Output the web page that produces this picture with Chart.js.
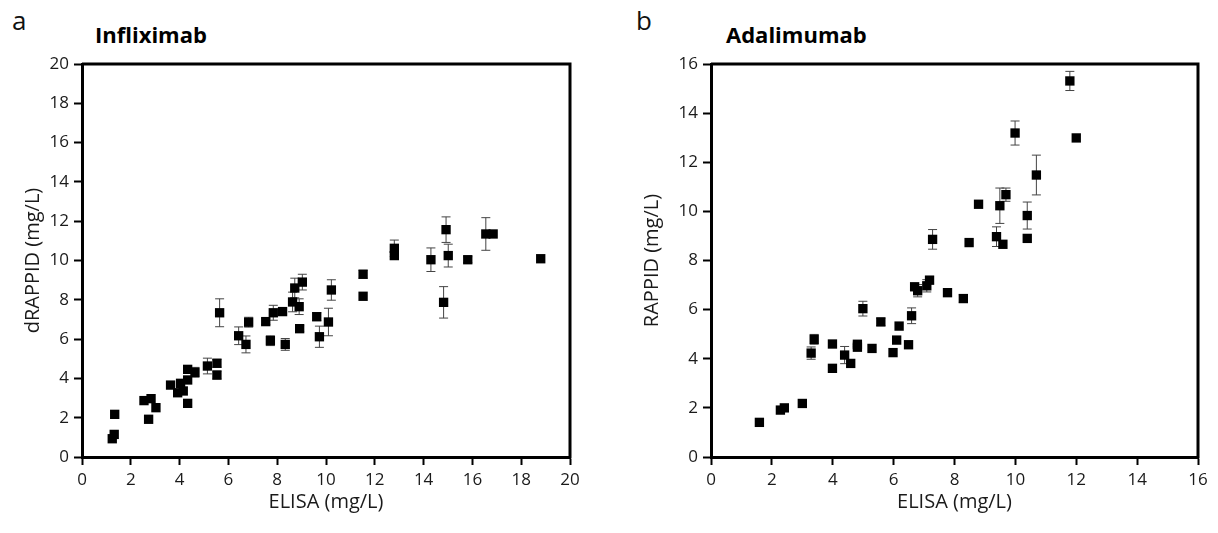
<!DOCTYPE html>
<html>
<head>
<meta charset="utf-8">
<script src="https://cdn.jsdelivr.net/npm/chart.js@4.4.1/dist/chart.umd.min.js"></script>
<style>
  body { margin: 0; background: #fff; width: 1218px; height: 533px; position: relative; overflow: hidden; font-family: "Open Sans", sans-serif; }
  canvas { position: absolute; top: 0; }
  #c1 { left: 0; }
  #c2 { left: 609px; }
  .panel { position: absolute; top: 7px; font-size: 26px; line-height: 1; color: #111; }
  .title { position: absolute; top: 23px; font-size: 22px; line-height: 1; font-weight: bold; color: #000; }
</style>
</head>
<body>
<div class="panel" style="left:12px">a</div>
<div class="title" style="left:95px">Infliximab</div>
<div class="panel" style="left:636px">b</div>
<div class="title" style="left:726px">Adalimumab</div>
<canvas id="c1" width="609" height="533"></canvas>
<canvas id="c2" width="609" height="533"></canvas>
<script>
// Infliximab: ELISA vs dRAPPID (mg/L), error = SD
let inflixELISA = [1.24, 1.32, 1.34, 2.54, 2.73, 2.83, 3.03, 3.63, 3.92, 4.04, 4.15, 4.33, 4.33, 4.33, 4.63, 5.14, 5.53, 5.53, 5.64, 6.42, 6.72, 6.83, 7.53, 7.72, 7.84, 8.22, 8.33, 8.63, 8.72, 8.9, 8.92, 9.03, 9.62, 9.73, 10.1, 10.22, 11.52, 11.52, 12.8, 12.8, 14.3, 14.82, 14.92, 15.01, 15.81, 16.55, 16.85, 18.8];
let inflixRAPPID = [0.93, 1.15, 2.17, 2.87, 1.92, 2.97, 2.51, 3.66, 3.27, 3.75, 3.36, 4.46, 3.92, 2.73, 4.31, 4.63, 4.77, 4.17, 7.34, 6.17, 5.73, 6.86, 6.89, 5.92, 7.34, 7.4, 5.73, 7.89, 8.6, 7.65, 6.53, 8.9, 7.14, 6.12, 6.87, 8.5, 9.3, 8.18, 10.62, 10.25, 10.04, 7.87, 11.57, 10.25, 10.04, 11.35, 11.35, 10.09];
let inflixErr = [0, 0, 0, 0, 0, 0, 0, 0, 0, 0, 0, 0, 0, 0, 0.25, 0.4, 0.2, 0.2, 0.71, 0.45, 0.43, 0.25, 0.15, 0.25, 0.38, 0, 0.3, 0.5, 0.5, 0.4, 0.15, 0.4, 0.2, 0.54, 0.7, 0.52, 0.2, 0, 0.42, 0, 0.6, 0.8, 0.65, 0.58, 0.15, 0.83, 0, 0];

// Adalimumab: ELISA vs RAPPID (mg/L)
let adaELISA = [1.59, 2.28, 2.41, 3.0, 3.29, 3.39, 3.99, 3.99, 4.39, 4.59, 4.81, 4.81, 4.99, 5.29, 5.58, 5.98, 6.1, 6.18, 6.49, 6.59, 6.69, 6.79, 7.09, 7.18, 7.28, 7.77, 8.29, 8.48, 8.79, 9.38, 9.49, 9.59, 9.69, 9.99, 10.39, 10.39, 10.69, 11.79, 12.0];
let adaRAPPID = [1.41, 1.91, 2.0, 2.18, 4.23, 4.79, 4.6, 3.61, 4.15, 3.81, 4.59, 4.47, 6.04, 4.42, 5.5, 4.25, 4.76, 5.33, 4.57, 5.75, 6.93, 6.77, 6.97, 7.2, 8.86, 6.69, 6.45, 8.73, 10.29, 8.97, 10.23, 8.66, 10.68, 13.19, 9.83, 8.9, 11.48, 15.31, 12.99];
let adaErr = [0, 0, 0, 0, 0.25, 0.2, 0, 0, 0.35, 0, 0.1, 0.1, 0.3, 0, 0.15, 0, 0, 0, 0.15, 0.32, 0, 0.25, 0.25, 0.15, 0.4, 0, 0.15, 0, 0, 0.4, 0.72, 0, 0.27, 0.49, 0.55, 0, 0.81, 0.39, 0];

const tickFont = { family: "Open Sans", size: 17 };
const titleFont = { family: "Open Sans", size: 20 };

// whiskers under the markers + top/right frame
const errorBars = {
  id: "errorBars",
  beforeDatasetsDraw(chart, args, opts) {
    const { ctx, scales: { x, y } } = chart;
    const pts = chart.data.datasets[0].data;
    ctx.save();
    ctx.strokeStyle = "#444";
    ctx.lineWidth = 1;
    pts.forEach((p, i) => {
      let e = opts.err[i];
      if (!e) return;
      let px = x.getPixelForValue(p.x);
      let top = y.getPixelForValue(p.y + e), bot = y.getPixelForValue(p.y - e);
      ctx.beginPath();
      ctx.moveTo(px, top); ctx.lineTo(px, bot);
      ctx.moveTo(px - 4.5, top); ctx.lineTo(px + 4.5, top);
      ctx.moveTo(px - 4.5, bot); ctx.lineTo(px + 4.5, bot);
      ctx.stroke();
    });
    ctx.restore();
  },
  afterDraw(chart) {
    const { ctx, chartArea: a } = chart;
    ctx.save();
    ctx.strokeStyle = "#000";
    ctx.lineWidth = 3;
    ctx.beginPath();
    ctx.moveTo(a.left, a.top);
    ctx.lineTo(a.right, a.top);
    ctx.lineTo(a.right, a.bottom + 1.5);
    ctx.stroke();
    ctx.restore();
  }
};

function makeChart(id, xs, ys, errs, xMax, yMax, yTitle, yAxisW, yTitlePad, rightPad) {
  let pts = xs.map((v, i) => ({ x: v, y: ys[i] }));
  return new Chart(document.getElementById(id), {
    type: "scatter",
    data: {
      datasets: [{
        data: pts,
        pointStyle: "rect",
        pointRadius: 6.6,
        pointHoverRadius: 6.6,
        backgroundColor: "#000",
        borderColor: "#000",
        borderWidth: 0
      }]
    },
    options: {
      responsive: false,
      animation: false,
      events: [],
      layout: { padding: { top: 64, right: rightPad, left: 0, bottom: 0 } },
      plugins: {
        legend: { display: false },
        tooltip: { enabled: false },
        errorBars: { err: errs }
      },
      scales: {
        x: {
          type: "linear",
          min: 0, max: xMax,
          afterFit: s => { s.height = 76; },
          border: { color: "#000", width: 3 },
          grid: { drawOnChartArea: false, drawTicks: true, tickLength: 8, tickWidth: 2, tickColor: "#000" },
          ticks: { stepSize: 2, color: "#1a1a1a", font: tickFont, padding: 5, maxRotation: 0 },
          title: { display: true, text: "ELISA (mg/L)", color: "#1a1a1a", font: titleFont, padding: { top: 0, bottom: 19 } }
        },
        y: {
          type: "linear",
          min: 0, max: yMax,
          afterFit: s => { s.width = yAxisW; },
          border: { color: "#000", width: 3 },
          grid: { drawOnChartArea: false, drawTicks: true, tickLength: 8, tickWidth: 2, tickColor: "#000" },
          ticks: { stepSize: 2, color: "#1a1a1a", font: tickFont, padding: 5 },
          title: { display: true, text: yTitle, color: "#1a1a1a", font: titleFont, padding: { top: yTitlePad, bottom: 0 } }
        }
      }
    },
    plugins: [errorBars]
  });
}

makeChart("c1", inflixELISA, inflixRAPPID, inflixErr, 20, 20, "dRAPPID (mg/L)", 82, 21, 39);
makeChart("c2", adaELISA, adaRAPPID, adaErr, 16, 16, "RAPPID (mg/L)", 102, 31, 20);
</script>
</body>
</html>
